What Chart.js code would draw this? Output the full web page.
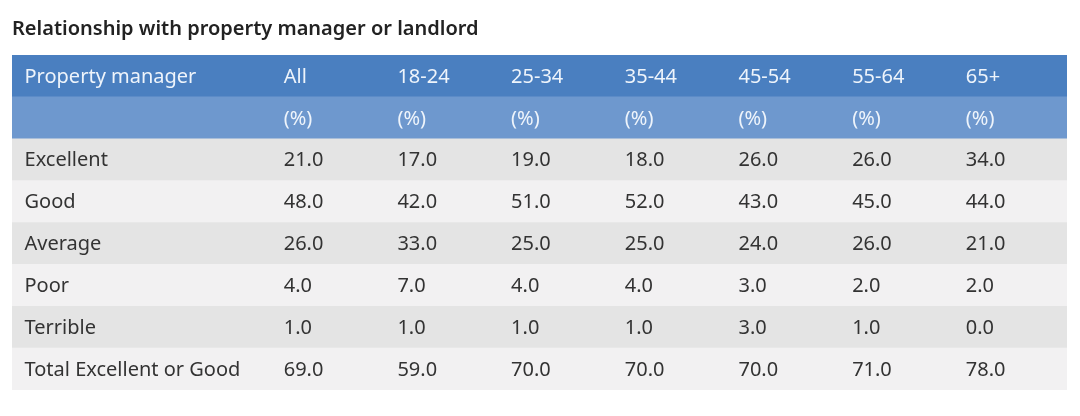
<!DOCTYPE html>
<html>
<head>
<meta charset="utf-8">
<script src="https://cdn.jsdelivr.net/npm/chart.js@4"></script>
<style>
  html, body { margin: 0; padding: 0; background: #fff; }
  #wrap { width: 1080px; height: 416px; position: relative; }
</style>
</head>
<body>
<div id="wrap"><canvas id="tableChart"></canvas></div>
<script>
const titleText = 'Relationship with property manager or landlord';
const firstHeader = 'Property manager';
const columns = ['All', '18-24', '25-34', '35-44', '45-54', '55-64', '65+'];
const unitRow = ['(%)', '(%)', '(%)', '(%)', '(%)', '(%)', '(%)'];
const ratings = ['Excellent', 'Good', 'Average', 'Poor', 'Terrible', 'Total Excellent or Good'];

const valAll = [21.0, 48.0, 26.0, 4.0, 1.0, 69.0];
const val1824 = [17.0, 42.0, 33.0, 7.0, 1.0, 59.0];
const val2534 = [19.0, 51.0, 25.0, 4.0, 1.0, 70.0];
const val3544 = [18.0, 52.0, 25.0, 4.0, 1.0, 70.0];
const val4554 = [26.0, 43.0, 24.0, 3.0, 3.0, 70.0];
const val5564 = [26.0, 45.0, 26.0, 2.0, 1.0, 71.0];
const val65 = [34.0, 44.0, 21.0, 2.0, 0.0, 78.0];

const columnValues = [valAll, val1824, val2534, val3544, val4554, val5564, val65];

// x axis is in "column" units: data columns sit at 0..6, row labels a bit left
const LABEL_COL = -2.28;
const X_MIN = -2.39;
const X_MAX = 6.89;

const FONT = '"Noto Sans", "Open Sans", sans-serif';
const headerDark = '#4a7fc0';
const headerLight = '#6e98ce';
const rowGrey = '#e4e4e4';
const rowLight = '#f2f1f2';

const rowKeys = ['head', 'unit', ...ratings];
const rowColors = rowKeys.map((k, i) => {
  if (i === 0) return headerDark;
  if (i === 1) return headerLight;
  return (i - 2) % 2 === 0 ? rowGrey : rowLight;
});

const cellText = {
  id: 'cellText',
  afterDatasetsDraw(chart) {
    const { ctx, scales } = chart;
    const x = scales.x;
    const y = scales.y;
    ctx.save();
    ctx.textBaseline = 'middle';
    ctx.textAlign = 'left';
    ctx.font = '20px ' + FONT;

    // header rows
    ctx.fillStyle = '#eef4fb';
    let yy = y.getPixelForValue(0) + 1;
    ctx.fillText(firstHeader, x.getPixelForValue(LABEL_COL), yy);
    columns.forEach((c, j) => ctx.fillText(c, x.getPixelForValue(j), yy));
    yy = y.getPixelForValue(1) + 1;
    unitRow.forEach((u, j) => ctx.fillText(u, x.getPixelForValue(j), yy));

    // body rows
    ctx.fillStyle = '#333333';
    ratings.forEach((r, i) => {
      const py = y.getPixelForValue(i + 2) + 1;
      ctx.fillText(r, x.getPixelForValue(LABEL_COL), py);
      columnValues.forEach((vals, j) => {
        ctx.fillText(vals[i].toFixed(1), x.getPixelForValue(j), py);
      });
    });
    ctx.restore();
  }
};

const config = {
  type: 'bar',
  data: {
    labels: rowKeys,
    datasets: [
      {
        label: 'rows',
        data: rowKeys.map(() => [X_MIN, X_MAX]),
        backgroundColor: rowColors,
        borderWidth: 0,
        barPercentage: 1,
        categoryPercentage: 1,
      },
    ],
  },
  options: {
    indexAxis: 'y',
    responsive: true,
    maintainAspectRatio: false,
    animation: false,
    layout: {
      padding: { left: 12, right: 13, top: 17, bottom: 26 },
    },
    scales: {
      x: { type: 'linear', min: X_MIN, max: X_MAX, display: false },
      y: { type: 'category', display: false, offset: true },
    },
    plugins: {
      legend: { display: false },
      tooltip: { enabled: false },
      title: {
        display: true,
        text: titleText,
        align: 'start',
        color: '#222222',
        font: { family: FONT, size: 20, weight: '600' },
        padding: { top: 0, bottom: 14 },
      },
    },
  },
  plugins: [cellText],
};

new Chart(document.getElementById('tableChart'), config);
</script>
</body>
</html>
